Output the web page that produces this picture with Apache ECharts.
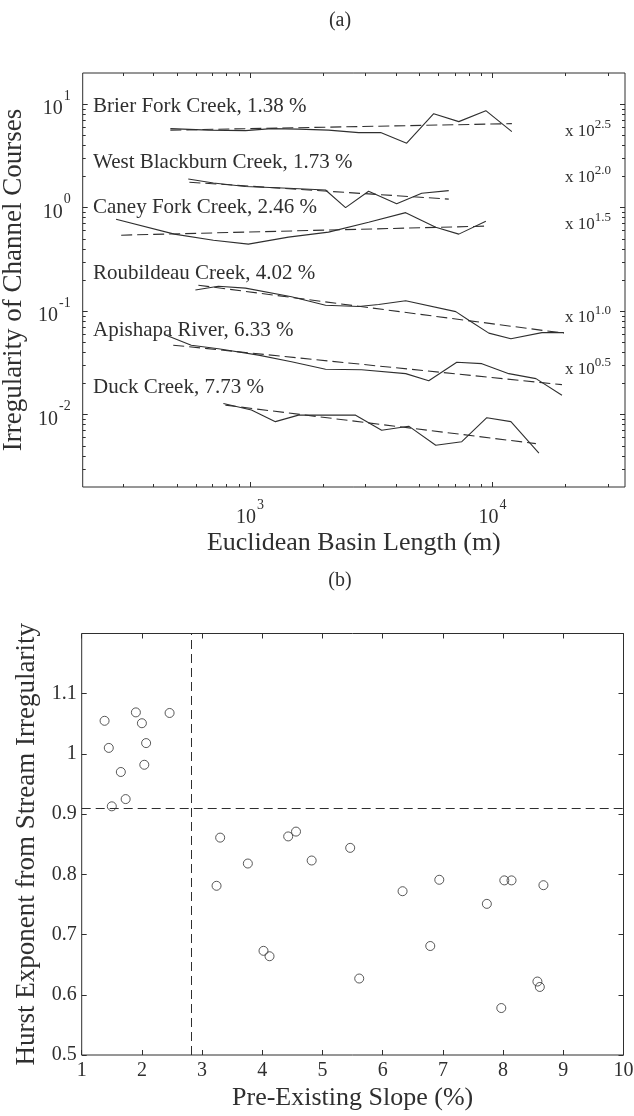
<!DOCTYPE html>
<html>
<head>
<meta charset="utf-8">
<title>Channel irregularity and Hurst exponent</title>
<script src="https://cdn.jsdelivr.net/npm/echarts@6/dist/echarts.min.js"></script>
<style>
  html, body { margin: 0; padding: 0; background: #ffffff; }
  #chart { width: 634px; height: 1116px; }
</style>
</head>
<body>
<div id="chart"></div>
<script>
// ---------- (a) Irregularity of channel courses vs. Euclidean basin length ----------
// Plotted values already include the vertical shift printed at the right of each pair.
const brierLength = [469, 673, 957, 1225, 1584, 2107, 2804, 3456, 4426, 5722, 7260, 9386, 12020];
const brierIrregularity = [5.80, 5.61, 5.55, 5.80, 5.74, 5.61, 5.31, 5.31, 4.20, 8.09, 6.78, 8.65, 5.42];
const brierFitLength = [469, 12020];
const brierFit = [5.61, 6.48];

const blackburnLength = [556, 706, 957, 1440, 2048, 2477, 3083, 4024, 5105, 6600];
const blackburnIrregularity = [1.89, 1.73, 1.60, 1.54, 1.48, 1.00, 1.44, 1.09, 1.38, 1.46];
const blackburnFitLength = [562, 6600];
const blackburnFit = [1.76, 1.21];

const caneyLength = [280, 487, 706, 984, 1440, 2107, 3083, 4384, 5833, 7260, 9386];
const caneyIrregularity = [0.774, 0.555, 0.485, 0.444, 0.519, 0.580, 0.724, 0.895, 0.648, 0.555, 0.741];
const caneyFitLength = [294, 9386];
const caneyFit = [0.542, 0.663];

const roubildeauLength = [595, 740, 957, 1482, 2048, 2804, 3391, 4384, 7056, 7985, 9658, 11910, 15990, 19710];
const roubildeauIrregularity = [0.160, 0.174, 0.167, 0.138, 0.114, 0.111, 0.116, 0.126, 0.0989, 0.0818, 0.0613, 0.0542, 0.0620, 0.0620];
const roubildeauFitLength = [612, 19710];
const roubildeauFit = [0.178, 0.0613];

const apishapaLength = [451, 572, 740, 1083, 1482, 2048, 2885, 4384, 5458, 7124, 9036, 11680, 15110, 19340];
const apishapaIrregularity = [0.0586, 0.0469, 0.0434, 0.0376, 0.0325, 0.0275, 0.0272, 0.0249, 0.0213, 0.0321, 0.0311, 0.0249, 0.0223, 0.0154];
const apishapaFitLength = [482, 19340];
const apishapaFit = [0.0469, 0.0195];

const duckLength = [776, 1013, 1272, 1584, 2725, 3489, 4512, 5833, 7470, 9476, 11910, 15540];
const duckIrregularity = [0.0128, 0.0111, 0.00856, 0.00989, 0.00989, 0.00708, 0.00774, 0.00507, 0.00548, 0.00935, 0.00856, 0.00425];
const duckFitLength = [791, 15100];
const duckFit = [0.01235, 0.00525];

const creekNames = ['Brier Fork Creek', 'West Blackburn Creek', 'Caney Fork Creek', 'Roubildeau Creek', 'Apishapa River', 'Duck Creek'];
const creekSlopes = [1.38, 1.73, 2.46, 4.02, 6.33, 7.73];
const shiftExponents = ['2.5', '2.0', '1.5', '1.0', '0.5'];

// ---------- (b) Hurst exponent vs. pre-existing slope ----------
const slope = [1.38, 1.45, 1.50, 1.65, 1.73, 1.90, 2.00, 2.04, 2.07, 2.46,
               3.24, 3.30, 3.76, 4.02, 4.12, 4.43, 4.56, 4.82, 5.46, 5.61,
               6.33, 6.79, 6.94, 7.73, 7.97, 8.02, 8.14, 8.57, 8.61, 8.67];
const hurst = [1.055, 1.010, 0.913, 0.970, 0.925, 1.069, 1.051, 0.982, 1.018, 1.068,
               0.781, 0.861, 0.818, 0.673, 0.664, 0.863, 0.871, 0.823, 0.844, 0.627,
               0.772, 0.681, 0.791, 0.751, 0.578, 0.790, 0.790, 0.622, 0.613, 0.782];
const slopeThreshold = 2.82;
const hurstThreshold = 0.908;

// ---------- styling ----------
const ink = '#2f2f2f';
const serif = '"Liberation Serif", "Times New Roman", "DejaVu Serif", serif';
const lengthRange = [204, 35200];
const irregularityRange = [0.002, 20];
const log10 = Math.log10;

function majorLogTicks(range) {
  const out = [];
  for (let d = Math.ceil(log10(range[0])); d <= Math.floor(log10(range[1])); d++) out.push(d);
  return out;
}
function minorLogTicks(range) {
  const lo = log10(range[0]), hi = log10(range[1]), out = [];
  for (let d = Math.floor(lo); d <= Math.ceil(hi); d++) {
    for (let k = 2; k <= 9; k++) {
      const v = d + log10(k);
      if (v > lo + 1e-6 && v < hi - 1e-6) out.push(v);
    }
  }
  return out;
}
const logSpan = r => [log10(r[0]), log10(r[1])];

const powerRich = {
  b: { fontSize: 20, fontFamily: serif, color: ink, verticalAlign: 'bottom' },
  e: { fontSize: 14, fontFamily: serif, color: ink, verticalAlign: 'bottom', padding: [0, 0, 16, 1] }
};
const powerLabel = v => '{b|10}{e|' + Math.round(v) + '}';
const titleStyle = { fontFamily: serif, fontSize: 26, color: ink };
const sideTitleStyle = { fontFamily: serif, fontSize: 27, color: ink };

// Tick-only axes in log10 space that decorate the hidden log axes of panel (a)
function tickAxis(grid, position, span, ticks, len, more) {
  return Object.assign({
    type: 'value', gridIndex: grid, position: position, min: span[0], max: span[1],
    axisLine: { show: false, onZero: false },
    axisTick: { show: true, inside: true, length: len, customValues: ticks, lineStyle: { color: ink, width: 1 } },
    axisLabel: { show: false },
    splitLine: { show: false },
    silent: true
  }, more || {});
}

const xSpan = logSpan(lengthRange), ySpan = logSpan(irregularityRange);
const xMajor = majorLogTicks(lengthRange), xMinor = minorLogTicks(lengthRange);
const yMajor = majorLogTicks(irregularityRange), yMinor = minorLogTicks(irregularityRange);

const xAxes = [
  { type: 'log', logBase: 10, gridIndex: 0, min: lengthRange[0], max: lengthRange[1], show: false },
  tickAxis(0, 'bottom', xSpan, xMajor, 5, {
    axisLabel: { show: true, customValues: xMajor, formatter: powerLabel, rich: powerRich, margin: 11 },
    name: 'Euclidean Basin Length (m)', nameLocation: 'middle', nameGap: 43, nameTextStyle: titleStyle
  }),
  tickAxis(0, 'bottom', xSpan, xMinor, 3),
  tickAxis(0, 'top', xSpan, xMajor, 5),
  tickAxis(0, 'top', xSpan, xMinor, 3),
  {
    type: 'value', gridIndex: 1, position: 'bottom', min: 1, max: 10, interval: 1,
    axisLine: { show: false, onZero: false },
    axisTick: { show: true, inside: true, length: 5, lineStyle: { color: ink, width: 1 } },
    axisLabel: { fontFamily: serif, fontSize: 20, color: ink, margin: 6 },
    splitLine: { show: false },
    name: 'Pre-Existing Slope (%)', nameLocation: 'middle', nameGap: 30, nameTextStyle: titleStyle
  },
  {
    type: 'value', gridIndex: 1, position: 'top', min: 1, max: 10, interval: 1,
    axisLine: { show: false, onZero: false },
    axisTick: { show: true, inside: true, length: 5, lineStyle: { color: ink, width: 1 } },
    axisLabel: { show: false }, splitLine: { show: false }
  }
];

const yAxes = [
  { type: 'log', logBase: 10, gridIndex: 0, min: irregularityRange[0], max: irregularityRange[1], show: false },
  tickAxis(0, 'left', ySpan, yMajor, 5, {
    axisLabel: { show: true, customValues: yMajor, formatter: powerLabel, rich: powerRich, margin: 12 },
    name: 'Irregularity of Channel Courses', nameLocation: 'middle', nameGap: 44, nameTextStyle: sideTitleStyle
  }),
  tickAxis(0, 'left', ySpan, yMinor, 3),
  tickAxis(0, 'right', ySpan, yMajor, 5),
  tickAxis(0, 'right', ySpan, yMinor, 3),
  {
    type: 'value', gridIndex: 1, position: 'left', min: 0.5, max: 1.2, interval: 0.1,
    axisLine: { show: false, onZero: false },
    axisTick: { show: true, inside: true, length: 5, lineStyle: { color: ink, width: 1 } },
    axisLabel: { fontFamily: serif, fontSize: 20, color: ink, margin: 5, showMaxLabel: false },
    splitLine: { show: false },
    name: 'Hurst Exponent from Stream Irregularity', nameLocation: 'middle', nameGap: 41, nameTextStyle: sideTitleStyle
  },
  {
    type: 'value', gridIndex: 1, position: 'right', min: 0.5, max: 1.2, interval: 0.1,
    axisLine: { show: false, onZero: false },
    axisTick: { show: true, inside: true, length: 5, lineStyle: { color: ink, width: 1 } },
    axisLabel: { show: false }, splitLine: { show: false }
  }
];

const pairs = (xs, ys) => xs.map((x, i) => [x, ys[i]]);
const creeks = [
  [brierLength, brierIrregularity, brierFitLength, brierFit],
  [blackburnLength, blackburnIrregularity, blackburnFitLength, blackburnFit],
  [caneyLength, caneyIrregularity, caneyFitLength, caneyFit],
  [roubildeauLength, roubildeauIrregularity, roubildeauFitLength, roubildeauFit],
  [apishapaLength, apishapaIrregularity, apishapaFitLength, apishapaFit],
  [duckLength, duckIrregularity, duckFitLength, duckFit]
];

const series = [];
creeks.forEach((c, i) => {
  series.push({
    name: creekNames[i], type: 'line', xAxisIndex: 0, yAxisIndex: 0,
    data: pairs(c[0], c[1]), showSymbol: false, silent: true,
    lineStyle: { color: ink, width: 1.1 }
  });
  series.push({
    name: creekNames[i] + ' fit', type: 'line', xAxisIndex: 0, yAxisIndex: 0,
    data: pairs(c[2], c[3]), showSymbol: false, silent: true,
    lineStyle: { color: ink, width: 1.1, type: [11, 5] }
  });
});
series.push({
  type: 'scatter', xAxisIndex: 5, yAxisIndex: 5,
  data: pairs(slope, hurst),
  symbol: 'circle', symbolSize: 9,
  itemStyle: { color: 'rgba(0,0,0,0)', borderColor: ink, borderWidth: 1 },
  markLine: {
    silent: true, symbol: 'none', animation: false,
    label: { show: false },
    lineStyle: { color: ink, width: 1, type: [9, 5] },
    data: [{ xAxis: slopeThreshold }, { yAxis: hurstThreshold }]
  }
});

// Annotations: panel letters, creek names with slopes, shift factors
const nameRows = [106, 162, 207, 273, 330, 387];
const shiftRows = [129, 175, 222.5, 315, 367.5];
const graphic = [
  { type: 'text', x: 340, y: 21, style: { text: '(a)', align: 'center', verticalAlign: 'middle', fontFamily: serif, fontSize: 20, fill: ink } },
  { type: 'text', x: 340, y: 581, style: { text: '(b)', align: 'center', verticalAlign: 'middle', fontFamily: serif, fontSize: 20, fill: ink } }
];
creekNames.forEach((n, i) => {
  graphic.push({
    type: 'text', x: 93, y: nameRows[i],
    style: { text: n + ', ' + creekSlopes[i].toFixed(2) + ' %', align: 'left', verticalAlign: 'middle', fontFamily: serif, fontSize: 21, fill: ink }
  });
});
shiftExponents.forEach((e, i) => {
  graphic.push({
    type: 'text', x: 565, y: shiftRows[i],
    style: {
      text: '{b|x 10}{e|' + e + '}', align: 'left', verticalAlign: 'middle',
      rich: {
        b: { fontFamily: serif, fontSize: 17, fill: ink, color: ink, verticalAlign: 'bottom' },
        e: { fontFamily: serif, fontSize: 13, fill: ink, color: ink, verticalAlign: 'bottom', padding: [0, 0, 9, 0] }
      }
    }
  });
});

const chart = echarts.init(document.getElementById('chart'), null, { renderer: 'canvas', width: 634, height: 1116 });
chart.setOption({
  backgroundColor: '#ffffff',
  animation: false,
  grid: [
    { left: 82.7, top: 73, width: 542.3, height: 414, containLabel: false, outerBoundsMode: 'none',
      show: true, borderColor: ink, borderWidth: 1, backgroundColor: 'transparent' },
    { left: 81.7, top: 633.5, width: 541.8, height: 421.5, containLabel: false, outerBoundsMode: 'none',
      show: true, borderColor: ink, borderWidth: 1, backgroundColor: 'transparent' }
  ],
  xAxis: xAxes,
  yAxis: yAxes,
  series: series,
  graphic: graphic
});
</script>
</body>
</html>
